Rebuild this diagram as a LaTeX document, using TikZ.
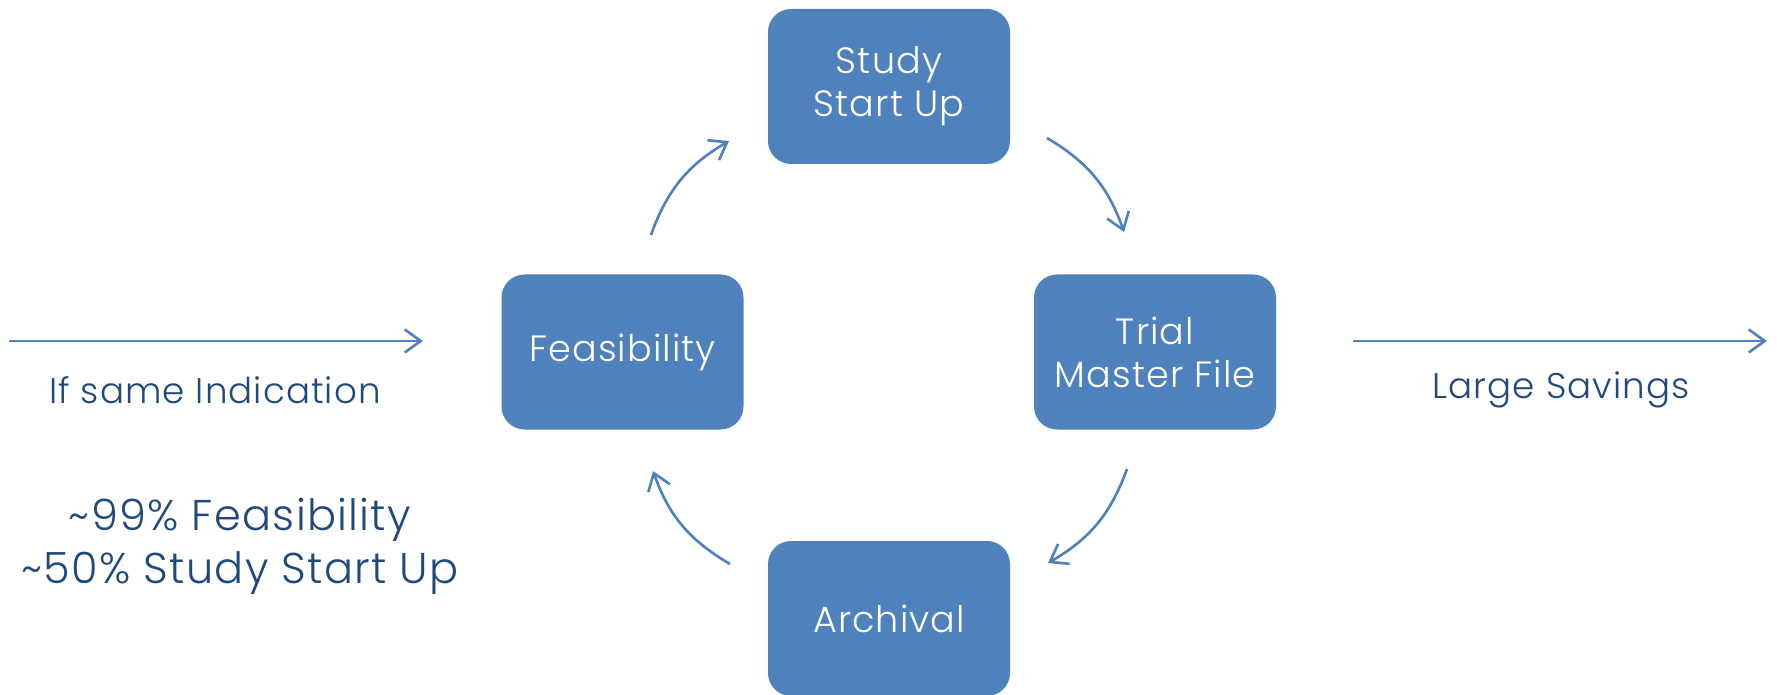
\documentclass[tikz,border=0pt]{standalone}
\usepackage{fontspec}
\setmainfont{Poppins}[UprightFont={* Light},LetterSpace=3]
\usepackage{tikz}
\usetikzlibrary{arrows.meta,calc}
\definecolor{boxblue}{RGB}{79,129,189}
\definecolor{textblue}{RGB}{31,73,125}
\tikzset{
	stage/.style={rectangle,rounded corners=0.46cm,fill=boxblue,text=white,
		minimum width=4.84cm,minimum height=3.1cm,align=center,
		font=\fontsize{20.8}{24.5}\selectfont},
	flow/.style={draw=boxblue,line width=1.5pt,-{Straight Barb[length=0.32cm,width=0.46cm]}},
	note/.style={text=textblue,align=center,font=\fontsize{20.3}{30}\selectfont},
	stat/.style={note,font=\fontsize{24.5}{30}\selectfont}
}
\begin{document}
\begin{tikzpicture}[scale=1]
			\useasboundingbox (0,0) rectangle (35.54,13.88);
			\node[stage] (study) at (17.78,12.15) {Study\\Start Up};
			\node[stage] (feas) at (12.45,6.84) {Feasibility};
			\node[stage] (tmf) at (23.1,6.84) {Trial\\Master File};
			\node[stage] (arch) at (17.78,1.51) {Archival};
			\coordinate (inL) at (0.18,7.06);
			\coordinate (inR) at (8.46,7.06);
			\coordinate (outL) at (27.06,7.06);
			\coordinate (outR) at (35.34,7.06);
			\coordinate (a1) at (13.02,9.18);
			\coordinate (b1) at (14.58,11.06);
			\coordinate (a2) at (20.94,11.12);
			\coordinate (b2) at (22.48,9.24);
			\coordinate (a3) at (22.54,4.50);
			\coordinate (b3) at (20.96,2.62);
			\coordinate (a4) at (14.60,2.60);
			\coordinate (b4) at (13.06,4.46);
			\draw[flow] (inL)--(inR);
			\draw[flow] (outL)--(outR);
			\draw[flow] (a1) to[bend left=20] (b1);
			\draw[flow] (a2) to[bend left=20] (b2);
			\draw[flow] (a3) to[bend left=20] (b3);
			\draw[flow] (a4) to[bend left=20] (b4);
			\node[note] (same) at (4.3,6.08) {If same Indication};
			\node[note] (save) at (31.22,6.08) {Large Savings};
			\node[stat] (stats) at (4.8,2.95) {\textasciitilde99\% Feasibility\\\textasciitilde50\% Study Start Up};
		\end{tikzpicture}
\end{document}
